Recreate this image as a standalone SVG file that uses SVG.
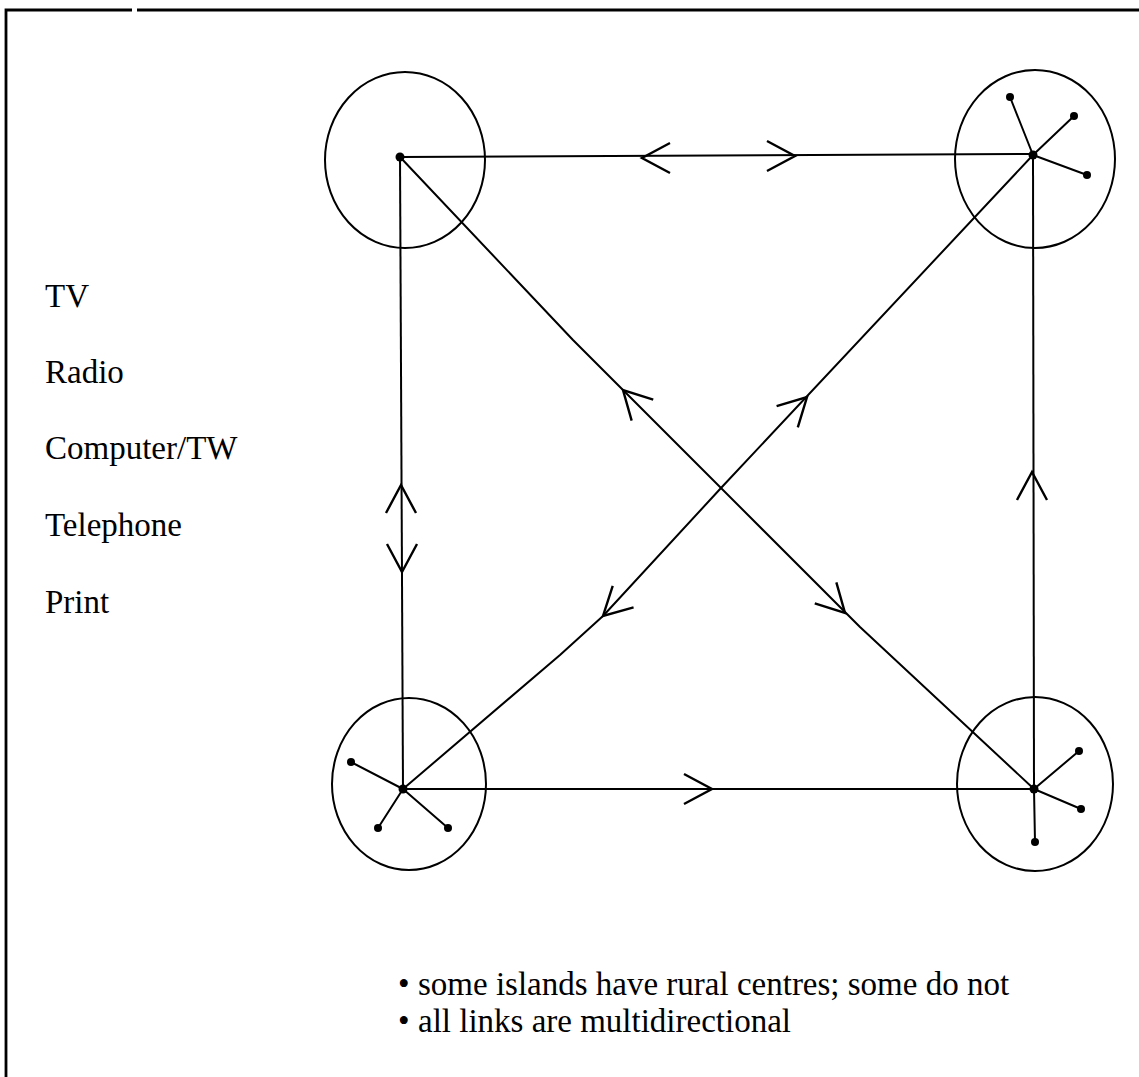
<svg xmlns="http://www.w3.org/2000/svg" xmlns:xlink="http://www.w3.org/1999/xlink" width="1139" height="1077" viewBox="0 0 1139 1077">
<style>
  .frame{fill:none;stroke:#000;stroke-width:2.8}
  .isl{fill:none;stroke:#000;stroke-width:2}
  .ln{fill:none;stroke:#000;stroke-width:2;stroke-linejoin:round}
  .ah{fill:none;stroke:#000;stroke-width:2.4;stroke-linejoin:miter}
  .dot{fill:#000}
  .lbl{font-family:"Liberation Serif","Times New Roman",serif;font-size:33px;fill:#000}
  .note{font-family:"Liberation Serif","Times New Roman",serif;font-size:33px;fill:#000}
</style>
<defs>
  <path id="ah" class="ah" d="M-28,-15 L0,0 L-28,15"/>
</defs>
<rect width="1139" height="1077" fill="#fff"/>
<path class="frame" d="M6,1077 V10 H132 M137,10 H1139"/>

<g id="labels">
  <text class="lbl" x="45" y="307">TV</text>
  <text class="lbl" x="45" y="383">Radio</text>
  <text class="lbl" x="45" y="459">Computer/TW</text>
  <text class="lbl" x="45" y="536">Telephone</text>
  <text class="lbl" x="45" y="613">Print</text>
</g>

<g id="connectors">
  <path class="ln" d="M400,157 L1033,154"/>
  <path class="ln" d="M400,157 L403,789"/>
  <path class="ln" d="M1033,155 L1034,789"/>
  <path class="ln" d="M403,789 L1034,789"/>
  <path class="ln" d="M400,157 L573,340 L860,627 L1034,789"/>
  <path class="ln" d="M403,789 L560,655 L603,616 L721,488 L1033,155"/>
  <use xlink:href="#ah" transform="translate(642,158) rotate(180)"/>
  <use xlink:href="#ah" transform="translate(795,156)"/>
  <use xlink:href="#ah" transform="translate(401,485) rotate(-90)"/>
  <use xlink:href="#ah" transform="translate(402,572) rotate(90)"/>
  <use xlink:href="#ah" transform="translate(1032,472) rotate(-90)"/>
  <use xlink:href="#ah" transform="translate(712,789)"/>
  <use xlink:href="#ah" transform="translate(623,390) rotate(-134)"/>
  <use xlink:href="#ah" transform="translate(845,613) rotate(46)"/>
  <use xlink:href="#ah" transform="translate(807,397) rotate(-45)"/>
  <use xlink:href="#ah" transform="translate(603,616) rotate(136)"/>
</g>

<g id="island-top-left">
  <ellipse class="isl" cx="405" cy="160" rx="80" ry="88"/>
  <circle class="dot" cx="400" cy="157" r="4.5"/>
</g>

<g id="island-top-right">
  <ellipse class="isl" cx="1035" cy="159" rx="80" ry="89"/>
  <path class="ln" d="M1033,155 L1010,97 M1033,155 L1074,116 M1033,155 L1087,175"/>
  <circle class="dot" cx="1033" cy="155" r="4.5"/>
  <circle class="dot" cx="1010" cy="97" r="4"/>
  <circle class="dot" cx="1074" cy="116" r="4"/>
  <circle class="dot" cx="1087" cy="175" r="4"/>
</g>

<g id="island-bottom-left">
  <ellipse class="isl" cx="409" cy="784" rx="77" ry="86"/>
  <path class="ln" d="M403,789 L351,762 M403,789 L378,828 M403,789 L448,828"/>
  <circle class="dot" cx="403" cy="789" r="4.5"/>
  <circle class="dot" cx="351" cy="762" r="4"/>
  <circle class="dot" cx="378" cy="828" r="4"/>
  <circle class="dot" cx="448" cy="828" r="4"/>
</g>

<g id="island-bottom-right">
  <ellipse class="isl" cx="1035" cy="784" rx="78" ry="87"/>
  <path class="ln" d="M1034,789 L1079,751 M1034,789 L1081,809 M1034,789 L1035,842"/>
  <circle class="dot" cx="1034" cy="789" r="4.5"/>
  <circle class="dot" cx="1079" cy="751" r="4"/>
  <circle class="dot" cx="1081" cy="809" r="4"/>
  <circle class="dot" cx="1035" cy="842" r="4"/>
</g>

<g id="notes">
  <text class="note" x="398" y="995">•</text>
  <text class="note" x="418" y="995">some islands have rural centres; some do not</text>
  <text class="note" x="398" y="1032">•</text>
  <text class="note" x="418" y="1032">all links are multidirectional</text>
</g>
</svg>
